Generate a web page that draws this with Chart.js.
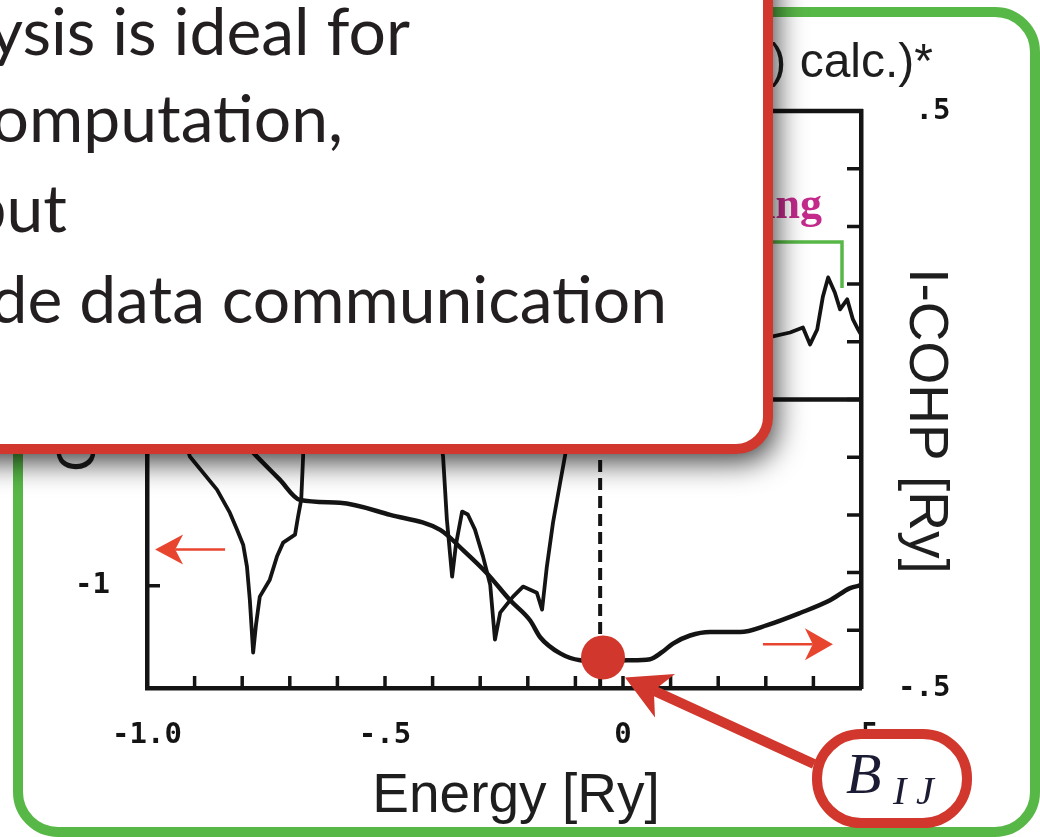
<!DOCTYPE html>
<html>
<head>
<meta charset="utf-8">
<title>COHP / I-COHP vs Energy</title>
<script src="https://cdn.jsdelivr.net/npm/chart.js@4.4.1/dist/chart.umd.min.js"></script>
<style>
  html, body { margin: 0; padding: 0; background: #fff; }
  canvas { display: block; }
</style>
</head>
<body>
<canvas id="cohpChart" width="1040" height="837"></canvas>
<script>
// ---- data ----
// COHP (left axis), spiky curve
const cohpEnergy = [-1.0, -0.96, -0.93, -0.910, -0.853, -0.826, -0.811, -0.798, -0.790, -0.784, -0.777,
  -0.771, -0.763, -0.742, -0.727, -0.714, -0.689, -0.683, -0.676, -0.672, -0.668, -0.64, -0.60, -0.55,
  -0.50, -0.45, -0.40, -0.378, -0.370, -0.359, -0.351, -0.338, -0.326, -0.311, -0.294, -0.279, -0.269,
  -0.258, -0.231, -0.210, -0.181, -0.170, -0.160, -0.147, -0.132, -0.122, -0.11, -0.08, -0.04, 0.0,
  0.10, 0.20, 0.28, 0.315, 0.351, 0.378, 0.393, 0.408, 0.420, 0.431, 0.445, 0.456, 0.471, 0.483, 0.494, 0.5];
const cohpValue = [0.0, 0.0, -0.15, -0.306, -0.484, -0.608, -0.699, -0.780, -0.898, -1.075, -1.360,
  -1.210, -1.059, -0.968, -0.844, -0.769, -0.726, -0.634, -0.538, -0.306, 0.40, 0.60, 0.30, 0.20,
  0.25, 0.40, 0.10, -0.306, -0.645, -0.952, -0.780, -0.602, -0.618, -0.699, -0.844, -0.995, -1.290,
  -1.145, -1.059, -1.005, -1.038, -1.129, -0.898, -0.661, -0.446, -0.306, -0.10, 0.15, 0.30, 0.40,
  0.35, 0.30, 0.33, 0.339, 0.360, 0.387, 0.296, 0.376, 0.554, 0.656, 0.575, 0.484, 0.538, 0.430, 0.376, 0.349];

// integrated COHP (right axis), smooth curve
const icohpEnergy = [-1.0, -0.89, -0.85, -0.769, -0.721, -0.679, -0.595, -0.489, -0.384, -0.336, -0.286,
  -0.237, -0.195, -0.174, -0.132, -0.090, -0.042, 0.008, 0.057, 0.082, 0.105, 0.141, 0.183, 0.246,
  0.303, 0.372, 0.435, 0.477, 0.5];
const icohpValue = [0.0, 0.0, -0.031, -0.099, -0.139, -0.174, -0.179, -0.200, -0.226, -0.261, -0.301,
  -0.348, -0.383, -0.412, -0.440, -0.452, -0.454, -0.452, -0.450, -0.438, -0.423, -0.409, -0.403, -0.403,
  -0.391, -0.370, -0.348, -0.327, -0.322];

// Fermi level (dashed) and the marked B_IJ value
const fermiEnergy = [-0.048];
const bijEnergy = [-0.042];
const bijValue = [-0.447];

// tick labels
const xTickValues = [-1.0, -0.5, 0, 0.5];
const xTickText = ["-1.0", "-.5", "0", ".5"];
const leftTickValues = [-1, 0, 1];
const leftTickText = ["-1", "0", "1"];
const rightTickValues = [-0.5, 0.5];
const rightTickText = ["-.5", " .5"];

// slide text
const calloutLines = ["\u2022 COHP analysis is ideal for", "parallel computation,", "but", "needs wide data communication"];
const calloutRight = [410, 343, 67, 667];
const calloutBase = [55, 142, 232, 323];

const INK = "#141414";
const RED = "#D1372C";
const ARROW_RED = "#E8452F";
const GREEN = "#58B847";

function labelFor(values, texts, v) {
  const i = values.findIndex(t => Math.abs(t - v) < 1e-6);
  return i >= 0 ? texts[i] : "";
}

function roundRectPath(ctx, x, y, w, h, r) {
  ctx.beginPath();
  ctx.moveTo(x + r, y);
  ctx.lineTo(x + w - r, y);
  ctx.arcTo(x + w, y, x + w, y + r, r);
  ctx.lineTo(x + w, y + h - r);
  ctx.arcTo(x + w, y + h, x + w - r, y + h, r);
  ctx.lineTo(x + r, y + h);
  ctx.arcTo(x, y + h, x, y + h - r, r);
  ctx.lineTo(x, y + r);
  ctx.arcTo(x, y, x + r, y, r);
  ctx.closePath();
}

function arrow(ctx, x0, y0, x1, y1, width, headLen, headHalf, color) {
  const ang = Math.atan2(y1 - y0, x1 - x0);
  const c = Math.cos(ang), s = Math.sin(ang);
  const bx = x1 - headLen * c, by = y1 - headLen * s;
  const nx = x1 - headLen * 0.72 * c, ny = y1 - headLen * 0.72 * s;
  ctx.strokeStyle = color;
  ctx.lineWidth = width;
  ctx.beginPath();
  ctx.moveTo(x0, y0);
  ctx.lineTo(nx, ny);
  ctx.stroke();
  ctx.fillStyle = color;
  ctx.beginPath();
  ctx.moveTo(x1, y1);
  ctx.lineTo(bx + headHalf * s, by - headHalf * c);
  ctx.lineTo(nx, ny);
  ctx.lineTo(bx - headHalf * s, by + headHalf * c);
  ctx.closePath();
  ctx.fill();
}

// white slide + green frame, under the plot
const slideBackground = {
  id: "slideBackground",
  beforeDraw(chart) {
    const ctx = chart.ctx;
    ctx.save();
    ctx.fillStyle = "#fff";
    ctx.fillRect(0, 0, chart.width, chart.height);
    ctx.strokeStyle = GREEN;
    ctx.lineWidth = 10;
    roundRectPath(ctx, 18, 12, 1017, 820, 40);
    ctx.stroke();
    ctx.restore();
  }
};

// inward ticks, frame top, labels and the slide annotations
const slideOverlay = {
  id: "slideOverlay",
  afterDraw(chart) {
    const ctx = chart.ctx;
    const a = chart.chartArea;
    const x = chart.scales.x, yL = chart.scales.yL, yR = chart.scales.yR;
    ctx.save();

    // inward tick marks
    ctx.strokeStyle = INK;
    ctx.lineWidth = 3.5;
    ctx.beginPath();
    x.ticks.forEach(t => {
      const px = x.getPixelForValue(t.value);
      ctx.moveTo(px, a.bottom); ctx.lineTo(px, a.bottom - 12);
    });
    yR.ticks.forEach(t => {
      const py = yR.getPixelForValue(t.value);
      ctx.moveTo(a.right, py); ctx.lineTo(a.right - 14, py);
    });
    yL.ticks.forEach(t => {
      const py = yL.getPixelForValue(t.value);
      ctx.moveTo(a.left, py); ctx.lineTo(a.left + 13, py);
    });
    ctx.stroke();
    ctx.lineWidth = 4.5;
    ctx.beginPath();
    ctx.moveTo(a.left, a.top); ctx.lineTo(a.right + 2, a.top);
    ctx.stroke();

    // small red arrows telling which axis belongs to which curve
    arrow(ctx, x.getPixelForValue(-0.836), yL.getPixelForValue(-0.806),
      x.getPixelForValue(-0.983), yL.getPixelForValue(-0.806), 2.5, 28, 15, ARROW_RED);
    arrow(ctx, x.getPixelForValue(0.294), yR.getPixelForValue(-0.424),
      x.getPixelForValue(0.441), yR.getPixelForValue(-0.424), 2.5, 28, 16, ARROW_RED);

    // axis titles
    ctx.fillStyle = "#1e1e1e";
    ctx.font = '55px "Liberation Sans", Arial, sans-serif';
    ctx.textAlign = "center";
    ctx.textBaseline = "alphabetic";
    ctx.fillText("Energy [Ry]", 516, 812);
    ctx.save();
    ctx.translate(910, 421);
    ctx.rotate(Math.PI / 2);
    ctx.fillText("I-COHP [Ry]", 0, 0);
    ctx.restore();
    ctx.save();
    ctx.translate(95, 472);
    ctx.rotate(-Math.PI / 2);
    ctx.textAlign = "left";
    ctx.fillText("COHP [Ry]", 0, 0);
    ctx.restore();

    // plot title
    ctx.font = '48px "Liberation Sans", Arial, sans-serif';
    ctx.textAlign = "right";
    ctx.fillText("(COHP (LMTO) calc.)*", 933, 77);

    // bonding label and bracket
    ctx.fillStyle = "#C42A8C";
    ctx.font = 'bold 44px "Liberation Serif", "Times New Roman", serif';
    ctx.fillText("bonding", 822, 218);
    ctx.strokeStyle = GREEN;
    ctx.lineWidth = 3.5;
    ctx.beginPath();
    ctx.moveTo(640, 242); ctx.lineTo(842, 242); ctx.lineTo(842, 288);
    ctx.stroke();

    // B_IJ pill and its pointer to the marked point
    ctx.fillStyle = "#fff";
    ctx.strokeStyle = RED;
    ctx.lineWidth = 10;
    roundRectPath(ctx, 817, 734, 150, 89, 44);
    ctx.fill();
    ctx.stroke();
    ctx.fillStyle = "#1b1b33";
    ctx.textAlign = "left";
    ctx.font = 'italic 58px "Liberation Serif", "Times New Roman", serif';
    ctx.fillText("B", 846, 793);
    ctx.font = 'italic 40px "Liberation Serif", "Times New Roman", serif';
    ctx.fillText("I", 893, 804);
    ctx.fillText("J", 916, 804);
    const dx = x.getPixelForValue(bijEnergy[0]);
    const dy = yR.getPixelForValue(bijValue[0]);
    arrow(ctx, 814, 764, dx + 22, dy + 20, 10, 44, 24, RED);

    // callout box on top of everything
    ctx.save();
    ctx.shadowColor = "rgba(0,0,0,0.8)";
    ctx.shadowBlur = 30;
    ctx.shadowOffsetX = 7;
    ctx.shadowOffsetY = 12;
    ctx.fillStyle = "#fff";
    roundRectPath(ctx, -60, -60, 828, 509, 32);
    ctx.fill();
    ctx.restore();
    ctx.strokeStyle = RED;
    ctx.lineWidth = 10;
    roundRectPath(ctx, -60, -60, 828, 509, 32);
    ctx.stroke();
    ctx.fillStyle = "#231f20";
    ctx.font = '66px Lato, "Open Sans", sans-serif';
    ctx.textAlign = "right";
    calloutLines.forEach((line, i) => ctx.fillText(line, calloutRight[i], calloutBase[i]));

    ctx.restore();
  }
};

const tickFont = { family: '"DejaVu Sans Mono", monospace', size: 29, weight: "bold" };

new Chart(document.getElementById("cohpChart").getContext("2d"), {
  type: "scatter",
  data: {
    datasets: [
      {
        label: "B_IJ",
        data: bijEnergy.map((e, i) => ({ x: e, y: bijValue[i] })),
        yAxisID: "yR",
        pointRadius: 22,
        pointBackgroundColor: RED,
        pointBorderWidth: 0,
        showLine: false
      },
      {
        label: "I-COHP",
        data: icohpEnergy.map((e, i) => ({ x: e, y: icohpValue[i] })),
        yAxisID: "yR",
        showLine: true,
        borderColor: INK,
        borderWidth: 4.5,
        pointRadius: 0,
        tension: 0.3,
        cubicInterpolationMode: "monotone"
      },
      {
        label: "COHP",
        data: cohpEnergy.map((e, i) => ({ x: e, y: cohpValue[i] })),
        yAxisID: "yL",
        showLine: true,
        borderColor: INK,
        borderWidth: 3.8,
        pointRadius: 0,
        tension: 0,
        borderJoinStyle: "round"
      },
      {
        label: "Fermi level",
        data: [{ x: fermiEnergy[0], y: -1.55 }, { x: fermiEnergy[0], y: 1.55 }],
        yAxisID: "yL",
        showLine: true,
        borderColor: INK,
        borderWidth: 4,
        borderDash: [12, 6],
        pointRadius: 0
      },
      {
        label: "zero",
        data: [{ x: -1, y: 0 }, { x: 0.5, y: 0 }],
        yAxisID: "yR",
        showLine: true,
        borderColor: INK,
        borderWidth: 4.5,
        pointRadius: 0
      }
    ]
  },
  options: {
    responsive: false,
    animation: false,
    devicePixelRatio: 1,
    events: [],
    layout: { padding: { top: 111, left: 0, right: 0, bottom: 0 } },
    plugins: { legend: { display: false }, tooltip: { enabled: false } },
    scales: {
      x: {
        type: "linear",
        position: "bottom",
        min: -1.0,
        max: 0.5,
        grid: { display: false, drawTicks: false },
        border: { display: true, width: 4.5, color: INK },
        ticks: {
          stepSize: 0.1,
          autoSkip: false,
          maxRotation: 0,
          padding: 30,
          color: INK,
          font: tickFont,
          callback: v => labelFor(xTickValues, xTickText, v)
        },
        afterFit: s => { s.height = 149; }
      },
      yL: {
        type: "linear",
        position: "left",
        min: -1.55,
        max: 1.55,
        grid: { display: false, drawTicks: false },
        border: { display: true, width: 4.5, color: INK },
        afterBuildTicks: s => { s.ticks = leftTickValues.map(v => ({ value: v })); },
        ticks: {
          padding: 37,
          color: INK,
          font: tickFont,
          callback: v => labelFor(leftTickValues, leftTickText, v)
        },
        afterFit: s => { s.width = 147; }
      },
      yR: {
        type: "linear",
        position: "right",
        min: -0.5,
        max: 0.5,
        grid: { display: false, drawTicks: false },
        border: { display: true, width: 4.5, color: INK },
        ticks: {
          stepSize: 0.1,
          autoSkip: false,
          padding: 37,
          crossAlign: "near",
          color: INK,
          font: tickFont,
          callback: v => labelFor(rightTickValues, rightTickText, v)
        },
        afterFit: s => { s.width = 179; }
      }
    }
  },
  plugins: [slideBackground, slideOverlay]
});
</script>
</body>
</html>
